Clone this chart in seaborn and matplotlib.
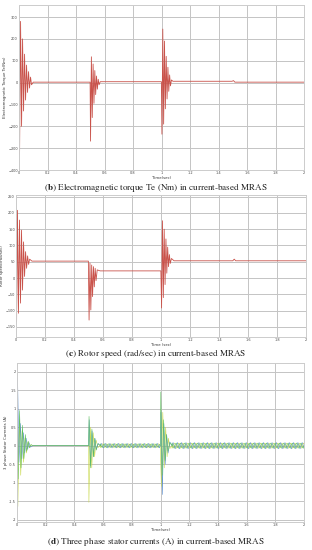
import numpy as np
import pandas as pd
import matplotlib
matplotlib.use("Agg")
import matplotlib.pyplot as plt
import seaborn as sns

# ---- torque (b): extrema of the damped oscillation ----
torque_t = [0, 0.004, 0.011, 0.018, 0.025, 0.032, 0.039, 0.046, 0.053, 0.060, 0.067,
            0.074, 0.081, 0.088, 0.10, 0.499, 0.502, 0.508, 0.514, 0.520, 0.526,
            0.532, 0.538, 0.544, 0.550, 0.556, 0.562, 0.57, 0.999, 1.003, 1.009,
            1.015, 1.021, 1.027, 1.033, 1.039, 1.045, 1.051, 1.057, 1.063, 1.07,
            1.08, 1.495, 1.505, 1.515, 2.0]
torque_v = [0, -327, 280, -200, 200, -130, 130, -80, 80, -45, 50, -25, 25, -10, 2, 2,
            -268, 118, -160, 85, -95, 55, -55, 30, -30, 15, -10, 4, 4, -236, 245,
            -190, 190, -120, 120, -75, 70, -40, 35, -15, 12, 6, 6, 9, 2, 2]

# ---- rotor speed (c) ----
speed_t = [0, 0.004, 0.010, 0.017, 0.024, 0.031, 0.038, 0.045, 0.052, 0.059, 0.066,
           0.073, 0.080, 0.087, 0.094, 0.11, 0.499, 0.504, 0.510, 0.516, 0.522,
           0.528, 0.534, 0.540, 0.546, 0.552, 0.560, 0.58, 0.999, 1.004, 1.010,
           1.016, 1.022, 1.028, 1.034, 1.040, 1.046, 1.052, 1.058, 1.064, 1.072,
           1.09, 1.495, 1.505, 1.515, 2.0]
speed_v = [0, -134, 208, -108, 178, -77, 147, -37, 111, 5, 81, 30, 68, 42, 58, 52, 52,
           -129, 46, -98, 40, -57, 35, -27, 30, -8, 25, 22, 22, -92, 176, -60, 150,
           -20, 120, 15, 95, 35, 72, 45, 60, 53, 53, 58, 53, 53]

# ---- stator currents (d): three phases ----
ia_t = [0, 0.004, 0.014, 0.024, 0.034, 0.044, 0.054, 0.064, 0.074, 0.084, 0.094, 0.11,
        0.499, 0.503, 0.513, 0.523, 0.533, 0.543, 0.553, 0.565, 0.58,
        0.999, 1.003, 1.013, 1.023, 1.033, 1.043, 1.053, 1.065, 1.08]
ia_v = [0, 1.84, -0.45, 0.6, -0.35, 0.35, -0.2, 0.2, -0.1, 0.08, -0.04, 0,
        0, 0.7, -0.55, 0.4, -0.3, 0.2, -0.1, 0.06, 0,
        0, 0.9, -1.32, 0.6, -0.5, 0.3, -0.2, 0.1, 0]
ib_t = [0, 0.008, 0.018, 0.028, 0.038, 0.048, 0.058, 0.068, 0.078, 0.088, 0.098, 0.11,
        0.499, 0.502, 0.512, 0.522, 0.532, 0.542, 0.552, 0.565, 0.58,
        0.999, 1.002, 1.012, 1.022, 1.032, 1.042, 1.052, 1.065, 1.08]
ib_v = [0, -0.9, 0.95, -0.6, 0.55, -0.35, 0.3, -0.15, 0.12, -0.05, 0.03, 0,
        0, 0.79, -0.6, 0.45, -0.3, 0.2, -0.12, 0.05, 0,
        0, 1.45, -0.8, 0.7, -0.4, 0.3, -0.15, 0.08, 0]
ic_t = [0, 0.006, 0.016, 0.026, 0.036, 0.046, 0.056, 0.066, 0.076, 0.086, 0.096, 0.11,
        0.499, 0.501, 0.511, 0.521, 0.531, 0.541, 0.551, 0.565, 0.58,
        0.999, 1.006, 1.016, 1.026, 1.036, 1.046, 1.056, 1.065, 1.08]
ic_v = [0, -1.64, 0.7, -0.8, 0.4, -0.45, 0.2, -0.2, 0.1, -0.06, 0.02, 0,
        0, -1.53, 0.5, -0.6, 0.35, -0.3, 0.15, -0.05, 0,
        0, -1.1, 0.9, -0.6, 0.5, -0.3, 0.2, -0.08, 0]

# steady ripple after the load steps: one cycle per phase, repeated
ripple_period = 0.03
ripple_cycle_a = [0.0, 0.06, 0.0, -0.06]
ripple_cycle_b = [0.05, -0.03, -0.05, 0.03]
ripple_cycle_c = [-0.05, -0.03, 0.05, 0.03]
ripple_segments = [(0.58, 1.0, 1.0), (1.08, 2.01, 1.4)]   # start, end, gain


def with_ripple(t, v, cycle):
    t = list(t)
    v = list(v)
    for (a, b, g) in ripple_segments:
        n = int(round((b - a) / ripple_period))
        tt = a + np.arange(n * len(cycle)) * ripple_period / len(cycle)
        vv = np.tile(cycle, n) * g
        t += list(tt)
        v += list(vv)
    df = pd.DataFrame({"t": t, "v": v}).sort_values("t")
    return df


sns.set_theme(style="whitegrid")
plt.rcParams["mathtext.fontset"] = "stix"

fig = plt.figure(figsize=(3.12, 5.5), dpi=100)
# panel boxes in pixels: left, top, right, bottom
boxes = [(19, 5, 304, 170), (16, 195, 306, 337), (17, 363, 304, 522)]
axes = [fig.add_axes([l / 312, 1 - b / 550, (r - l) / 312, (b - t) / 550]) for l, t, r, b in boxes]
ax1, ax2, ax3 = axes

red = "#c9524a"
sns.lineplot(x=torque_t, y=torque_v, ax=ax1, color=red, lw=0.6, estimator=None, sort=False)
sns.lineplot(x=speed_t, y=speed_v, ax=ax2, color=red, lw=0.6, estimator=None, sort=False)

da = with_ripple(ia_t, ia_v, ripple_cycle_a)
db = with_ripple(ib_t, ib_v, ripple_cycle_b)
dc = with_ripple(ic_t, ic_v, ripple_cycle_c)
sns.lineplot(data=dc, x="t", y="v", ax=ax3, color="#c8d84a", lw=0.4, estimator=None, sort=False)
sns.lineplot(data=da, x="t", y="v", ax=ax3, color="#5b8fd0", lw=0.4, estimator=None, sort=False)
sns.lineplot(data=db, x="t", y="v", ax=ax3, color="#5cbf5c", lw=0.4, estimator=None, sort=False)

ax1.set_ylim(-400, 355)
ax1.set_yticks(np.arange(-400, 301, 100))
ax2.set_ylim(-181, 255)
ax2.set_yticks(np.arange(-150, 251, 50))
ax3.set_ylim(-2.06, 2.23)
ax3.set_yticks(np.arange(-2, 2.01, 0.5))
ax3.set_yticklabels(["-2", "-1.5", "-1", "-0.5", "0", "0.5", "1", "1.5", "2"])

xticks = np.arange(0, 2.01, 0.2)
xlabels = ["0", "0.2", "0.4", "0.6", "0.8", "1", "1.2", "1.4", "1.6", "1.8", "2"]
for ax, xl, yl in [(ax1, "Time(sec)", "Electromagnetic Torque Te(Nm)"),
                   (ax2, "Time (sec)", "Rotor speed(rad/sec)"),
                   (ax3, "Time(sec)", "3 phase Stator Currents (A)")]:
    ax.set_xlim(0, 2)
    ax.set_xticks(xticks)
    ax.set_xticklabels(xlabels)
    ax.tick_params(labelsize=2.5, pad=0.8, length=0, colors="#444444")
    ax.set_xlabel(xl, fontsize=2.8, labelpad=0.5, color="#333333")
    ax.set_ylabel(yl, fontsize=2.8, labelpad=1, color="#333333")
    ax.grid(True, color="#c4c4c4", lw=0.7)
    for s in ax.spines.values():
        s.set_color("#cccccc")
        s.set_linewidth(0.7)

cap = dict(ha="center", va="center", fontsize=6.6, family="STIXGeneral", color="#222222")
fig.text(0.50, 1 - 187 / 550, r"($\mathbf{b}$) Electromagnetic torque Te (Nm) in current-based MRAS", **cap)
fig.text(0.50, 1 - 353 / 550, r"($\mathbf{c}$) Rotor speed (rad/sec) in current-based MRAS", **cap)
fig.text(0.50, 1 - 542 / 550, r"($\mathbf{d}$) Three phase stator currents (A) in current-based MRAS", **cap)

fig.savefig("out.png", dpi=100)
plt.close()
